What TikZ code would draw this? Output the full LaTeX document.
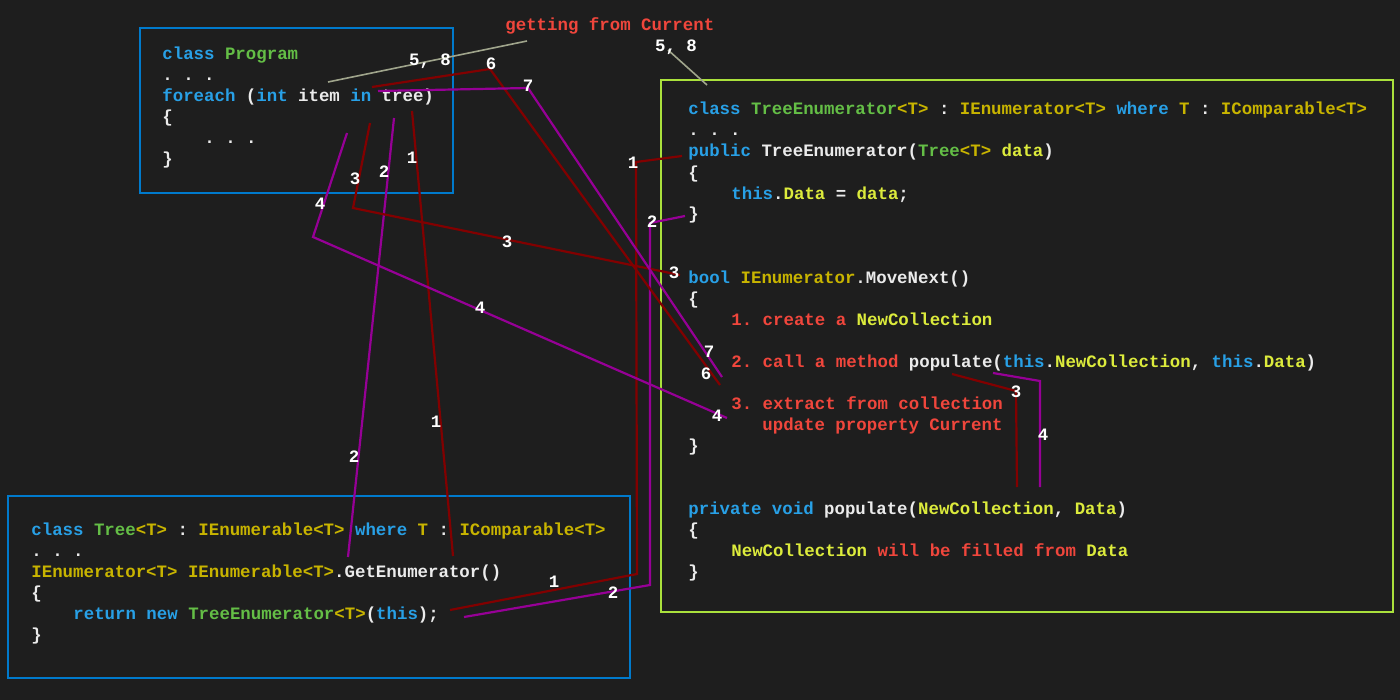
\documentclass[tikz,border=0pt]{standalone}
\usepackage{fontspec}
\newfontfamily\codefont{Liberation Mono}
\frenchspacing
\definecolor{bg}{RGB}{30,30,30}
\definecolor{progblue}{RGB}{0,122,204}
\definecolor{enumgreen}{RGB}{170,225,60}
\definecolor{kwblue}{RGB}{40,160,230}
\definecolor{typegreen}{RGB}{100,190,70}
\definecolor{genolive}{RGB}{200,180,0}
\definecolor{varyellow}{RGB}{220,235,60}
\definecolor{notered}{RGB}{240,70,60}
\definecolor{codewhite}{RGB}{235,235,235}
\definecolor{linered}{RGB}{130,0,0}
\definecolor{linepurple}{RGB}{150,0,150}
\definecolor{linegray}{RGB}{160,165,140}
\newcommand\ckw[1]{\textcolor{kwblue}{#1}}
\newcommand\ctype[1]{\textcolor{typegreen}{#1}}
\newcommand\cgen[1]{\textcolor{genolive}{#1}}
\newcommand\cvar[1]{\textcolor{varyellow}{#1}}
\newcommand\cnote[1]{\textcolor{notered}{#1}}
\tikzstyle{code}=[anchor=base west,inner sep=0pt,text=codewhite,font=\codefont\bfseries\fontsize{8.7}{10}\selectfont]
\tikzstyle{num}=[inner sep=0pt,text=white,font=\codefont\bfseries\fontsize{8.7}{10}\selectfont]
\tikzstyle{frame}=[draw,line width=1pt]
\tikzstyle{callred}=[draw,linered,line width=1.1pt]
\tikzstyle{callpurple}=[draw,linepurple,line width=1.1pt]
\tikzstyle{getgray}=[draw,linegray,line width=0.8pt]
\begin{document}
\begin{tikzpicture}[x=0.5pt,y=-0.5pt]
  \fill[bg] (0,0) rectangle (1400,700);
  \path[frame,progblue] (140,28) rectangle (453,193);
  \path[frame,progblue] (8,496) rectangle (630,678);
  \path[frame,enumgreen] (661,80) rectangle (1393,612);

  % class Program
  \foreach \n/\x/\t in {0/162/{\ckw{class} \ctype{Program}},1/162/{. . .},
      2/162/{\ckw{foreach} (\ckw{int} item \ckw{in} tree)},3/162/{\{},4/204/{. . .},5/162/{\}}}{
    \node[code] (prog\n) at (\x,60+21*\n) {\t};
  }

  % class Tree<T>
  \foreach \n/\x/\t in {0/31/{\ckw{class} \ctype{Tree}\cgen{<T>} : \cgen{IEnumerable<T>} \ckw{where} \cgen{T} : \cgen{IComparable<T>}},
      1/31/{. . .},2/31/{\cgen{IEnumerator<T>} \cgen{IEnumerable<T>}.GetEnumerator()},3/31/{\{},
      4/73/{\ckw{return} \ckw{new} \ctype{TreeEnumerator}\cgen{<T>}(\ckw{this});},5/31/{\}}}{
    \node[code] (tree\n) at (\x,535+21*\n) {\t};
  }

  % class TreeEnumerator<T>
  \foreach \n/\x/\t in {0/688/{\ckw{class} \ctype{TreeEnumerator}\cgen{<T>} : \cgen{IEnumerator<T>} \ckw{where} \cgen{T} : \cgen{IComparable<T>}},
      1/688/{. . .},2/688/{\ckw{public} TreeEnumerator(\ctype{Tree}\cgen{<T>} \cvar{data})},3/688/{\{},
      4/731/{\ckw{this}.\cvar{Data} = \cvar{data};},5/688/{\}},
      8/688/{\ckw{bool} \cgen{IEnumerator}.MoveNext()},9/688/{\{},
      10/731/{\cnote{1. create a} \cvar{NewCollection}},
      12/731/{\cnote{2. call a method} populate(\ckw{this}.\cvar{NewCollection}, \ckw{this}.\cvar{Data})},
      14/731/{\cnote{3. extract from collection}},15/762/{\cnote{update property Current}},16/688/{\}},
      19/688/{\ckw{private} \ckw{void} populate(\cvar{NewCollection}, \cvar{Data})},20/688/{\{},
      21/731/{\cvar{NewCollection} \cnote{will be filled from} \cvar{Data}},22/688/{\}}}{
    \node[code] (enum\n) at (\x,115+21*\n) {\t};
  }

  \node[code,text=notered] (getcur) at (505,31) {getting from Current};

  \foreach \x/\y/\id in {328/82/g1,527/41/g2,668/50/g3,707/85/g4,
      412/111/r1a,453/556/r1b,450/610/r1c,637/574/r1d,636/162/r1e,682/156/r1f,
      394/118/p2a,348/557/p2b,464/617/p2c,650/585/p2d,650/223/p2e,685/216/p2f,
      370/123/r3a,353/208/r3b,680/275/r3c,952/374/r3d,1016/391/r3e,1017/487/r3f,
      347/133/p4a,313/237/p4b,727/418/p4c,993/373/p4d,1040/381/p4e,1040/487/p4f,
      372/87/r6a,490/69/r6b,720/385/r6c,
      378/91/p7a,528/88/p7b,722/377/p7c}{
    \coordinate (\id) at (\x,\y);
  }

  \path[getgray] (g1) -- (g2);
  \path[getgray] (g3) -- (g4);
  \path[callred] (r1a) -- (r1b);
  \path[callred] (r1c) -- (r1d) -- (r1e) -- (r1f);
  \path[callpurple] (p2a) -- (p2b);
  \path[callpurple] (p2c) -- (p2d) -- (p2e) -- (p2f);
  \path[callred] (r3a) -- (r3b) -- (r3c);
  \path[callred] (r3d) -- (r3e) -- (r3f);
  \path[callpurple] (p4a) -- (p4b) -- (p4c);
  \path[callpurple] (p4d) -- (p4e) -- (p4f);
  \path[callred] (r6a) -- (r6b) -- (r6c);
  \path[callpurple] (p7a) -- (p7b) -- (p7c);

  \foreach \x/\y/\t/\id in {430/61/{5, 8}/n58a,676/47/{5, 8}/n58b,
      412/158/1/n1a,436/422/1/n1b,554/582/1/n1c,633/163/1/n1d,
      384/172/2/n2a,354/457/2/n2b,613/593/2/n2c,652/222/2/n2d,
      355/179/3/n3a,507/242/3/n3b,674/273/3/n3c,1016/392/3/n3d,
      320/204/4/n4a,480/308/4/n4b,717/416/4/n4c,1043/435/4/n4d,
      491/64/6/n6a,706/374/6/n6b,528/86/7/n7a,709/352/7/n7b}{
    \node[num] (\id) at (\x,\y) {\t};
  }
\end{tikzpicture}
\end{document}
